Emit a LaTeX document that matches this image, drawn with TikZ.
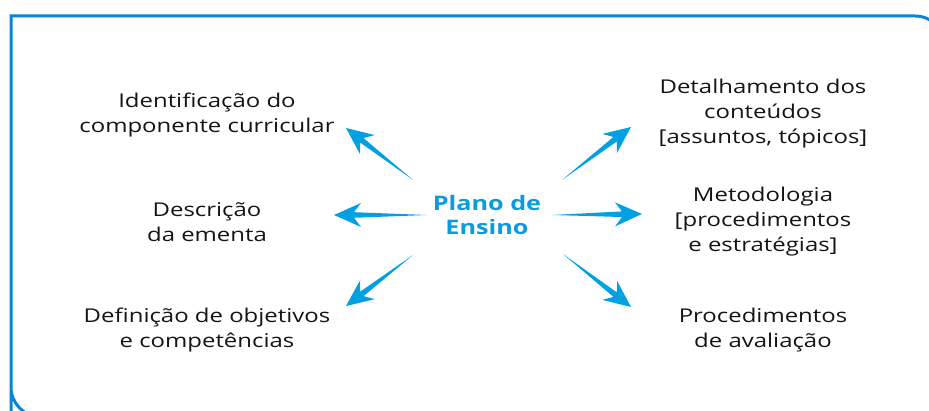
\documentclass[tikz,border=0pt]{standalone}
\usepackage{fontspec}
\setmainfont{Open Sans}[FakeStretch=1.26]
\usetikzlibrary{calc}
\definecolor{framec}{HTML}{0B84D6}
\definecolor{arrowc}{HTML}{00A0E3}
\definecolor{titlec}{HTML}{0A9BDC}
\definecolor{textc}{HTML}{141414}
\newcommand\taparrow[2]{%
  \fill[arrowc] (#1)
    -- ($(#2)!20pt!(#1)!2.8pt!90:(#2)$)
    -- ($(#2)!27pt!(#1)!12pt!90:(#2)$)
    -- (#2)
    -- ($(#2)!27pt!(#1)!12pt!-90:(#2)$)
    -- ($(#2)!20pt!(#1)!2.8pt!-90:(#2)$)
    -- cycle;}
\begin{document}
\begin{tikzpicture}[x=1pt,y=-1pt,
  lbl/.style={align=center, text=textc, font=\fontsize{19}{25}\selectfont, inner sep=0pt},
  title/.style={align=center, text=titlec, font=\fontsize{20}{24}\selectfont\bfseries, inner sep=0pt}]
\useasboundingbox (0,0) rectangle (929,411);
\begin{scope}
\clip (0,0) rectangle (929,411);
\draw[framec, line width=3pt] (11,440) -- (11,16) [rounded corners=30pt] -- (945,16) -- (945,417) -- (11,417) -- (11,380);
\end{scope}
\node[title] (c) at (487,215) {Plano de\\Ensino};
\node[lbl] (n1) at (207,115) {Identificação do\\componente curricular};
\node[lbl] (n2) at (207,222) {Descrição\\da ementa};
\node[lbl] (n3) at (207,330) {Definição de objetivos\\e competências};
\node[lbl] (n4) at (763,114) {Detalhamento dos\\conteúdos\\{[}assuntos, tópicos{]}};
\node[lbl] (n5) at (763,222) {Metodologia\\{[}procedimentos\\e estratégias{]}};
\node[lbl] (n6) at (763,330) {Procedimentos\\de avaliação};
\coordinate (t1) at (413,180); \coordinate (h1) at (346,128);
\coordinate (t2) at (427,215); \coordinate (h2) at (334,215);
\coordinate (t3) at (413,255); \coordinate (h3) at (346,306);
\coordinate (t4) at (562,180); \coordinate (h4) at (631,127);
\coordinate (t5) at (552,215); \coordinate (h5) at (642,214);
\coordinate (t6) at (563,254); \coordinate (h6) at (631,307);
\taparrow{t1}{h1}
\taparrow{t2}{h2}
\taparrow{t3}{h3}
\taparrow{t4}{h4}
\taparrow{t5}{h5}
\taparrow{t6}{h6}
\end{tikzpicture}
\end{document}
